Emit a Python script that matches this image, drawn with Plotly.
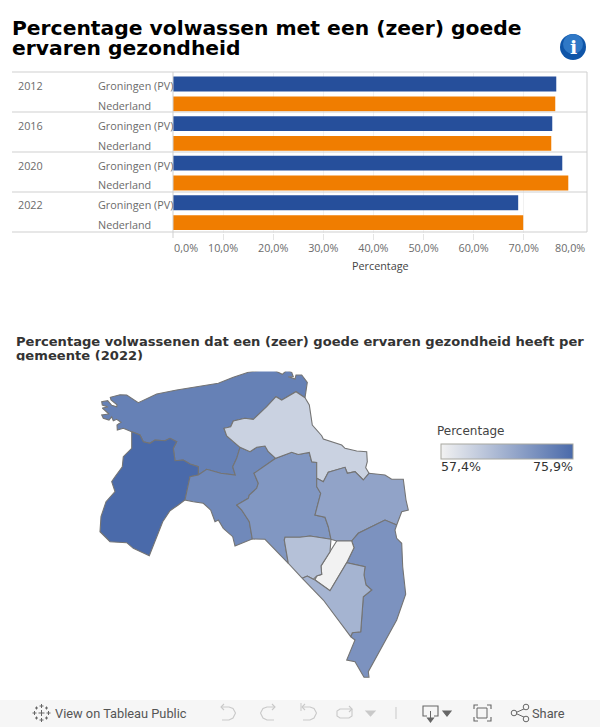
from __future__ import annotations

import plotly.graph_objects as go
from plotly.colors import sample_colorscale

WIDTH = 600
HEIGHT = 727

TITLE_LINES = ["Percentage volwassen met een (zeer) goede", "ervaren gezondheid"]
SUBTITLE_LINES = ["Percentage volwassenen dat een (zeer) goede ervaren gezondheid heeft per", "gemeente (2022)"]

YEARS = ["2012", "2016", "2020", "2022"]
REGIONS = ["Groningen (PV)", "Nederland"]
GRONINGEN_PV = [76.5, 75.7, 77.7, 68.9]
NEDERLAND = [76.3, 75.5, 78.9, 69.9]
TICK_VALUES = [10, 20, 30, 40, 50, 60, 70]
TICK_LABELS = ["10,0%", "20,0%", "30,0%", "40,0%", "50,0%", "60,0%", "70,0%"]

# gemeente values, estimated from the map shading
MAP_MIN = 57.4
MAP_MAX = 75.9
GEMEENTE_VALUES = {
    "Het Hogeland": 72.8,
    "Westerkwartier": 75.9,
    "Groningen": 71.7,
    "Midden-Groningen": 69.8,
    "Eemsdelta": 61.8,
    "Oldambt": 68.1,
    "Westerwolde": 70.4,
    "Pekela": 57.4,
    "Veendam": 64.1,
    "Stadskanaal": 65.9,
}

# outlines
HOGELAND = [
    (131.7, 431.7), (123.3, 428.3), (117.3, 430), (117, 425), (121, 422.3), (116.7, 419.3), (113.3, 420.7),
    (111.7, 416.7), (109, 420), (103.3, 418.3), (101.7, 415), (109, 414), (102.3, 408), (108, 407), (102.3, 405),
    (101.7, 401.7), (107.7, 400.7), (111.7, 405.3), (116.7, 406.7), (117, 404.7), (111, 400), (110.3, 397.3),
    (120, 394.7), (126.7, 395), (138.3, 402.7), (156.7, 394), (176.7, 390), (196.7, 386.7), (218.3, 383.3),
    (233.3, 377.3), (248.3, 372.3), (266.7, 369.3), (275, 370.7), (282.3, 374.3), (286.7, 370.3), (291.7, 372.3),
    (293.3, 376.7), (288.3, 376.7), (295, 379), (296, 375), (301.7, 375), (307.3, 382.3), (305, 397.7),
    (296, 391.7), (281.7, 400), (276, 396.7), (266.7, 406.7), (253.3, 419.3), (245, 418.3), (233.3, 421),
    (230.7, 426.7), (224, 428.3), (226.7, 436), (233.3, 441.7), (240, 447.3), (236.7, 458.3), (232.7, 466.7),
    (235.3, 475), (220.7, 473.3), (206.7, 469.3), (198.3, 475), (198.3, 466.7), (190, 464), (183.3, 460),
    (175, 460.7), (173.3, 448.3), (176.7, 441.7), (170, 438.3), (165, 440.7), (155, 440), (150, 443.3),
    (143.3, 441.7), (140, 435),
]
WESTERKWARTIER = [
    (131.7, 431.7), (140, 435), (143.3, 441.7), (150, 443.3), (155, 440), (165, 440.7), (170, 438.3), (176.7, 441.7),
    (173.3, 448.3), (175, 460.7), (183.3, 460), (190, 464), (198.3, 466.7), (198.3, 475), (190, 476.7), (185, 500),
    (178.3, 505), (170, 510.7), (162.7, 521.7), (158.3, 533.3), (149.3, 555.7), (133.3, 548.3), (126.7, 542.7),
    (110, 541.7), (100, 531.7), (101, 516.7), (106, 501.7), (115, 491.7), (111.7, 481.7), (115, 476.7),
    (122.3, 466.7), (123.3, 456.7), (131.7, 448.3), (131.7, 445),
]
GRONINGEN = [
    (240, 447.3), (250, 451.7), (256.7, 447.3), (265, 446), (268.3, 451.7), (275.7, 458.3), (254, 473.3),
    (258.3, 483.3), (256.7, 488.3), (249.3, 495), (248.3, 498.3), (236.7, 505), (241.7, 510), (249.3, 521.7),
    (252.3, 539), (235, 546), (232.7, 536.7), (223.3, 528.3), (218.3, 520), (215, 521.7), (210.7, 510),
    (203.3, 503.3), (193.3, 501.7), (185, 500), (190, 476.7), (198.3, 475), (206.7, 469.3), (220.7, 473.3),
    (235.3, 475), (232.7, 466.7), (236.7, 458.3),
]
MIDDEN_GRONINGEN = [
    (275.7, 458.3), (291.7, 452.3), (298.3, 454.5), (309.3, 452.5), (311.7, 461.7), (316.7, 462.5), (316.7, 478.3),
    (316.7, 486.7), (320.7, 493.3), (315, 515), (325, 517.3), (328.3, 526.7), (331, 539.3), (310, 536), (300, 537.3),
    (285, 537.3), (284.3, 540), (288.3, 563.3), (265, 539.3), (252.3, 539), (249.3, 521.7), (241.7, 510), (236.7, 505),
    (248.3, 498.3), (249.3, 495), (256.7, 488.3), (258.3, 483.3), (254, 473.3),
]
EEMSDELTA = [
    (305, 397.7), (309.3, 405), (312.3, 425), (321.7, 435.7), (323.3, 439), (341.7, 445), (345, 448.3), (356.7, 451),
    (366.7, 451.7), (367.3, 461.7), (365.7, 467.7), (369, 473.3), (363.3, 480), (355, 471.7), (347.3, 473.3),
    (345, 467.3), (328.3, 472.3), (323.3, 481.7), (316.7, 478.3), (316.7, 462.5), (311.7, 461.7), (309.3, 452.5),
    (298.3, 454.5), (291.7, 452.3), (275.7, 458.3), (268.3, 451.7), (265, 446), (256.7, 447.3), (250, 451.7),
    (240, 447.3), (233.3, 441.7), (226.7, 436), (224, 428.3), (230.7, 426.7), (233.3, 421), (245, 418.3),
    (253.3, 419.3), (266.7, 406.7), (276, 396.7), (281.7, 400), (296, 391.7),
]
OLDAMBT = [
    (316.7, 478.3), (323.3, 481.7), (328.3, 472.3), (345, 467.3), (347.3, 473.3), (355, 471.7), (363.3, 480),
    (369, 473.3), (385, 475), (391.7, 479.3), (403.3, 479.3), (406, 500), (408.3, 510), (401.7, 511.7), (396.7, 525),
    (385, 520), (368.3, 528.3), (358.3, 533.3), (351.7, 541), (336.7, 541), (331, 539.3), (328.3, 526.7), (325, 517.3),
    (315, 515), (320.7, 493.3), (316.7, 486.7),
]
WESTERWOLDE = [
    (396.7, 525), (395, 530), (396.7, 538.3), (401.7, 543.3), (402.7, 566.7), (405.7, 594.3), (396.7, 620),
    (368.3, 671.7), (369, 677.3), (364, 677.3), (355, 661.7), (346.7, 660), (355, 640), (350.7, 636.7), (352.3, 632.7),
    (360.7, 631.7), (363.3, 596.7), (371.7, 590), (366, 585), (364, 575), (365, 566.7), (346.7, 562.7), (354, 547.7),
    (351.7, 541), (358.3, 533.3), (368.3, 528.3), (385, 520),
]
PEKELA = [
    (336.7, 541), (351.7, 541), (354, 547.7), (346.7, 562.7), (330, 590.7), (315, 580), (316.7, 576), (321.7, 574.3),
    (321, 566), (330, 551.7),
]
VEENDAM = [
    (331, 539.3), (330, 551.7), (321, 566), (321.7, 574.3), (316.7, 576), (313.3, 579.3), (307.3, 576), (302.3, 578.3),
    (288.3, 563.3), (284.3, 540), (285, 537.3), (300, 537.3), (310, 536),
]
STADSKANAAL = [
    (302.3, 578.3), (307.3, 576), (313.3, 579.3), (315, 580), (330, 590.7), (346.7, 562.7), (365, 566.7), (364, 575),
    (366, 585), (371.7, 590), (363.3, 596.7), (360.7, 631.7), (352.3, 632.7), (350.7, 636.7), (323.3, 600),
]

GEMEENTE_OUTLINES = {
    "Het Hogeland": HOGELAND,
    "Westerkwartier": WESTERKWARTIER,
    "Groningen": GRONINGEN,
    "Midden-Groningen": MIDDEN_GRONINGEN,
    "Eemsdelta": EEMSDELTA,
    "Oldambt": OLDAMBT,
    "Westerwolde": WESTERWOLDE,
    "Pekela": PEKELA,
    "Veendam": VEENDAM,
    "Stadskanaal": STADSKANAAL,
}

BLUE = "#264f9b"
ORANGE = "#f07d00"
AXIS_TEXT = "#6b6b6b"
RULE = "#cfcfcf"
GRID = "#f1f1f1"
MAP_SCALE = [[0, "#f2f2f2"], [1, "#4a6aaa"]]
BODY_FONT = "Open Sans"
TITLE_FONT = "DejaVu Sans"
TOOLBAR_TEXT = "#555555"
ICON_ON = "#666666"
ICON_OFF = "#c9c9c9"
TEXT_PAD = 2  # annotations sit 2px inside their anchor


def px_x(x):
    return x / WIDTH


def px_y(y):
    return 1 - y / HEIGHT


def label(x, y, text, size, color, family=BODY_FONT, anchor="left", bold=False):
    if bold:
        text = f"<b>{text}</b>"
    if anchor == "left":
        x -= TEXT_PAD
    elif anchor == "right":
        x += TEXT_PAD
    return dict(
        x=px_x(x), y=px_y(y), xref="paper", yref="paper", text=text, showarrow=False,
        xanchor=anchor, yanchor="middle", align=anchor,
        font=dict(family=family, size=size, color=color),
    )


def line_shape(x0, y0, x1, y1, color, width=1):
    return dict(
        type="line", xref="paper", yref="paper", x0=px_x(x0), y0=px_y(y0), x1=px_x(x1), y1=px_y(y1),
        line=dict(color=color, width=width),
    )


def circle_shape(cx, cy, r, fill, color=None, width=0):
    return dict(
        type="circle", xref="paper", yref="paper",
        x0=px_x(cx - r), x1=px_x(cx + r), y0=px_y(cy + r), y1=px_y(cy - r),
        fillcolor=fill, line=dict(color=color or fill, width=width),
    )


def rect_shape(x0, y0, x1, y1, fill, color=None, width=0, layer="below"):
    return dict(
        type="rect", xref="paper", yref="paper", x0=px_x(x0), x1=px_x(x1), y0=px_y(y1), y1=px_y(y0),
        fillcolor=fill, line=dict(color=color or fill, width=width), layer=layer,
    )


def path_shape(points, color, width=1.1, fill=None, close=False):
    xs = [f"{px_x(x):.5f},{px_y(y):.5f}" for x, y in points]
    path = "M" + " L".join(xs) + (" Z" if close else "")
    return dict(
        type="path", xref="paper", yref="paper", path=path,
        fillcolor=fill or "rgba(0,0,0,0)", line=dict(color=color, width=width),
    )


def toolbar_shapes():
    shapes = [rect_shape(0, 700, 600, 727, "#f6f6f6")]
    # tableau logo, small crosses
    for cx, cy, s in [(41.5, 713, 3), (41.5, 706, 2), (41.5, 720, 2), (34.5, 713, 2), (48.5, 713, 2),
                      (36.5, 708, 1.5), (46.5, 708, 1.5), (36.5, 718, 1.5), (46.5, 718, 1.5)]:
        shapes.append(line_shape(cx - s, cy, cx + s, cy, ICON_ON))
        shapes.append(line_shape(cx, cy - s, cx, cy + s, ICON_ON))
    # undo, redo, revert, refresh
    undo = [(221, 707), (229, 707), (233, 708.5), (235.5, 713), (233, 718), (229, 720), (222, 720)]
    shapes.append(path_shape(undo, ICON_OFF))
    shapes.append(path_shape([(224, 704), (221, 707), (224, 710)], ICON_OFF))
    redo = [(275, 707), (267, 707), (263, 708.5), (260.5, 713), (263, 718), (267, 720), (274, 720)]
    shapes.append(path_shape(redo, ICON_OFF))
    shapes.append(path_shape([(272, 704), (275, 707), (272, 710)], ICON_OFF))
    revert = [(x + 81, y) for x, y in undo]
    shapes.append(path_shape(revert, ICON_OFF))
    shapes.append(path_shape([(305, 704), (302, 707), (305, 710)], ICON_OFF))
    shapes.append(line_shape(301, 703, 301, 711, ICON_OFF))
    shapes.append(path_shape([(352, 709), (340, 709), (337, 711), (337, 716), (340, 718), (349, 718), (352, 716), (352, 709)], ICON_OFF))
    shapes.append(path_shape([(349, 706), (352, 709), (349, 712)], ICON_OFF))
    shapes.append(path_shape([(366, 711), (375, 711), (370.5, 716)], ICON_OFF, fill=ICON_OFF, close=True))
    shapes.append(line_shape(396, 707, 396, 719, ICON_OFF))
    # download
    shapes.append(path_shape([(427, 716), (423, 716), (423, 706), (438, 706), (438, 716), (434, 716)], ICON_ON))
    shapes.append(line_shape(430.5, 711, 430.5, 721, ICON_ON))
    shapes.append(path_shape([(427.5, 718), (433.5, 718), (430.5, 722)], ICON_ON, fill=ICON_ON, close=True))
    shapes.append(path_shape([(443, 711), (451, 711), (447, 716)], ICON_ON, fill=ICON_ON, close=True))
    # fullscreen
    shapes.append(rect_shape(477, 708, 487, 718, "rgba(0,0,0,0)", ICON_ON, 1, layer="above"))
    for corner in [[(474, 709), (474, 705), (478, 705)], [(487, 705), (491, 705), (491, 709)],
                   [(474, 717), (474, 721), (478, 721)], [(487, 721), (491, 721), (491, 717)]]:
        shapes.append(path_shape(corner, ICON_ON))
    # share
    shapes.append(line_shape(515, 713, 526, 708, ICON_ON))
    shapes.append(line_shape(515, 713, 526, 718, ICON_ON))
    for cx, cy in [(514, 713), (526, 707), (526, 719)]:
        shapes.append(circle_shape(cx, cy, 2.8, "#f6f6f6", ICON_ON, 1))
    return shapes


categories = [f"{year} {region}" for year in YEARS for region in REGIONS]

fig = go.Figure()
fig.add_trace(go.Bar(
    y=[f"{year} {REGIONS[0]}" for year in YEARS], x=GRONINGEN_PV, orientation="h", name=REGIONS[0],
    marker=dict(color=BLUE, line=dict(width=0)), hovertemplate="%{y}: %{x:.1f}%<extra></extra>",
))
fig.add_trace(go.Bar(
    y=[f"{year} {REGIONS[1]}" for year in YEARS], x=NEDERLAND, orientation="h", name=REGIONS[1],
    marker=dict(color=ORANGE, line=dict(width=0)), hovertemplate="%{y}: %{x:.1f}%<extra></extra>",
))

# map on its own pixel-sized axes
for name, outline in GEMEENTE_OUTLINES.items():
    closed = outline + outline[:1]
    value = GEMEENTE_VALUES[name]
    color = sample_colorscale(MAP_SCALE, [(value - MAP_MIN) / (MAP_MAX - MAP_MIN)])[0]
    fig.add_trace(go.Scatter(
        x=[p[0] for p in closed], y=[p[1] for p in closed], mode="lines", fill="toself", fillcolor=color,
        line=dict(color="#747474", width=1.1), xaxis="x2", yaxis="y2", hoverinfo="skip", showlegend=False,
    ))

names = list(GEMEENTE_OUTLINES)
fig.add_trace(go.Scatter(
    x=[sum(p[0] for p in GEMEENTE_OUTLINES[n]) / len(GEMEENTE_OUTLINES[n]) for n in names],
    y=[sum(p[1] for p in GEMEENTE_OUTLINES[n]) / len(GEMEENTE_OUTLINES[n]) for n in names],
    mode="markers", xaxis="x2", yaxis="y2", text=names, showlegend=False,
    marker=dict(
        size=14, opacity=0, color=[GEMEENTE_VALUES[n] for n in names], colorscale=MAP_SCALE,
        cmin=MAP_MIN, cmax=MAP_MAX,
        colorbar=dict(
            orientation="h", lenmode="pixels", len=132, thicknessmode="pixels", thickness=15,
            x=px_x(507), xanchor="center", y=px_y(444), yanchor="top", yref="paper",
            outlinecolor="#a8a8a0", outlinewidth=1, ticks="", showticklabels=False, borderwidth=0, xpad=0, ypad=0,
        ),
    ),
    hovertemplate="%{text}: %{marker.color:.1f}%<extra></extra>",
))

annotations = [
    label(12, 28, TITLE_LINES[0], 20.3, "#000000", TITLE_FONT, bold=True),
    label(12, 48, TITLE_LINES[1], 20.3, "#000000", TITLE_FONT, bold=True),
    label(16, 341, SUBTITLE_LINES[0], 13.1, "#333333", TITLE_FONT, bold=True),
    label(16, 355, SUBTITLE_LINES[1], 13.1, "#333333", TITLE_FONT, bold=True),
    # hides the bottom of the second subtitle line, it is cut off in the tile
    dict(x=px_x(14), y=px_y(360), xref="paper", yref="paper", xanchor="left", yanchor="top", showarrow=False,
         text=" ", width=300, height=10, bgcolor="#ffffff", borderpad=0),
    label(573, 47, "i", 19, "#ffffff", "DejaVu Serif", anchor="center", bold=True),
    label(186, 247, "0,0%", 10.8, AXIS_TEXT, anchor="center"),
    label(570, 247, "80,0%", 10.8, AXIS_TEXT, anchor="center"),
    label(380, 266, "Percentage", 10.8, "#444444", anchor="center"),
    label(437, 431, "Percentage", 12, "#444444", TITLE_FONT),
    label(441, 466, f"{MAP_MIN:.1f}%".replace(".", ","), 12.6, "#333333", TITLE_FONT),
    label(573, 466, f"{MAP_MAX:.1f}%".replace(".", ","), 12.6, "#333333", TITLE_FONT, anchor="right"),
    label(55, 713, "View on Tableau Public", 12.8, TOOLBAR_TEXT, "Roboto"),
    label(532, 713, "Share", 12.8, TOOLBAR_TEXT, "Roboto"),
]
for year in YEARS:
    annotations.append(dict(
        x=px_x(18 - TEXT_PAD), y=f"{year} {REGIONS[0]}", xref="paper", yref="y", text=year, showarrow=False,
        xanchor="left", yshift=-2, font=dict(family=BODY_FONT, size=10.8, color=AXIS_TEXT),
    ))
for category in categories:
    annotations.append(dict(
        x=px_x(98 - TEXT_PAD), y=category, xref="paper", yref="y", text=category.split(" ", 1)[1], showarrow=False,
        xanchor="left", yshift=-2, font=dict(family=BODY_FONT, size=10.8, color=AXIS_TEXT),
    ))

shapes = toolbar_shapes()
for row_y in [72, 112, 152, 192, 232]:
    shapes.append(line_shape(12, row_y, 587, row_y, RULE))
shapes.append(line_shape(173, 72, 173, 238, RULE))
shapes.append(line_shape(587, 72, 587, 232, RULE))
shapes.append(circle_shape(573, 47, 13, "#0f55a8"))
shapes.append(circle_shape(573, 44, 10, "#2f78c6"))

fig.update_layout(
    width=WIDTH,
    height=HEIGHT,
    margin=dict(l=0, r=0, t=0, b=0),
    paper_bgcolor="#ffffff",
    plot_bgcolor="rgba(0,0,0,0)",
    showlegend=False,
    barmode="overlay",
    bargap=0.25,
    hovermode="closest",
    xaxis=dict(
        domain=[px_x(173), px_x(587)], range=[0, (587 - 173) / 50.1 * 10], tickvals=TICK_VALUES, ticktext=TICK_LABELS,
        showgrid=True, gridcolor=GRID, zeroline=False, showline=False, ticks="outside", ticklen=6, tickcolor="#e4e4e4",
        tickfont=dict(family=BODY_FONT, size=10.8, color=AXIS_TEXT),
    ),
    yaxis=dict(
        domain=[px_y(232.5), px_y(72.5)], categoryorder="array", categoryarray=categories, autorange="reversed",
        showticklabels=False, showgrid=False, zeroline=False, ticks="",
    ),
    xaxis2=dict(domain=[0, 1], range=[0, WIDTH], visible=False, anchor="y2"),
    yaxis2=dict(domain=[0, 1], range=[HEIGHT, 0], visible=False, anchor="x2"),
    shapes=shapes,
    annotations=annotations,
)

fig.write_html("out.html", config=dict(displayModeBar=False), post_script="document.body.style.margin='0';")
